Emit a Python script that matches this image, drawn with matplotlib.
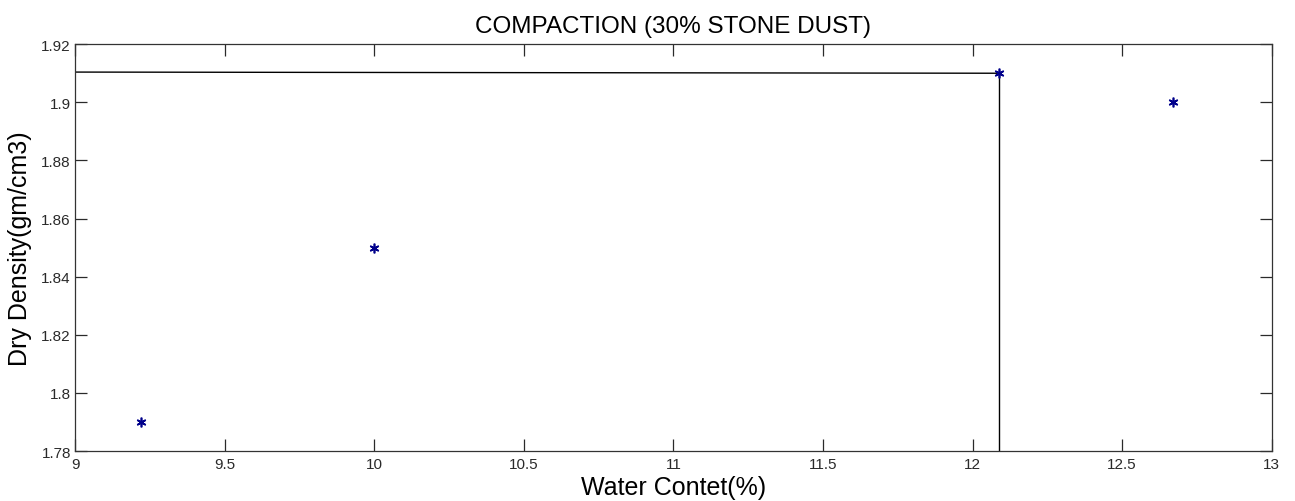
import numpy as np
import matplotlib
matplotlib.use("Agg")
import matplotlib.pyplot as plt

plt.rcParams['font.family'] = ['Liberation Sans', 'DejaVu Sans']

# measured points
water = [9.22, 10.0, 12.09, 12.67]
density = [1.79, 1.85, 1.91, 1.90]

# guide lines to the optimum moisture content / max dry density
omc = 12.09
mdd_line_x = [9.0, 12.09]
mdd_line_y = [1.9104, 1.9100]
omc_line_y = [1.78, 1.91]

xticks = [9, 9.5, 10, 10.5, 11, 11.5, 12, 12.5, 13]
xticklabels = ['9', '9.5', '10', '10.5', '11', '11.5', '12', '12.5', '13']
yticks = [1.78, 1.8, 1.82, 1.84, 1.86, 1.88, 1.9, 1.92]
yticklabels = ['1.78', '1.8', '1.82', '1.84', '1.86', '1.88', '1.9', '1.92']

fig = plt.figure(figsize=(12.95, 5.02), dpi=100)
ax = fig.add_axes([0.058, 0.0996, 0.924, 0.8104])

ax.plot(mdd_line_x, mdd_line_y, color='black', lw=1.0)
ax.plot([omc, omc], omc_line_y, color='black', lw=1.0)
ax.plot(water, density, linestyle='none', marker=(6, 2, 0), markersize=7,
        color='#00008b', markeredgewidth=1.2)

ax.set_xlim(9, 13)
ax.set_ylim(1.78, 1.92)
ax.set_xticks(xticks)
ax.set_xticklabels(xticklabels)
ax.set_yticks(yticks)
ax.set_yticklabels(yticklabels)
ax.tick_params(direction='in', length=8.5, width=0.9, top=True, right=True,
               labelsize=11, colors='#2a2a2a')
ax.tick_params(axis='x', pad=4)
ax.tick_params(axis='y', pad=3)
for s in ax.spines.values():
    s.set_linewidth(0.9)
    s.set_color('#333333')

ax.set_title('COMPACTION (30% STONE DUST)', fontsize=17.5, pad=9)
ax.set_xlabel('Water Contet(%)', fontsize=18, labelpad=3)
ax.set_ylabel('Dry Density(gm/cm3)', fontsize=18, labelpad=7)

fig.savefig('out.png', dpi=100)
